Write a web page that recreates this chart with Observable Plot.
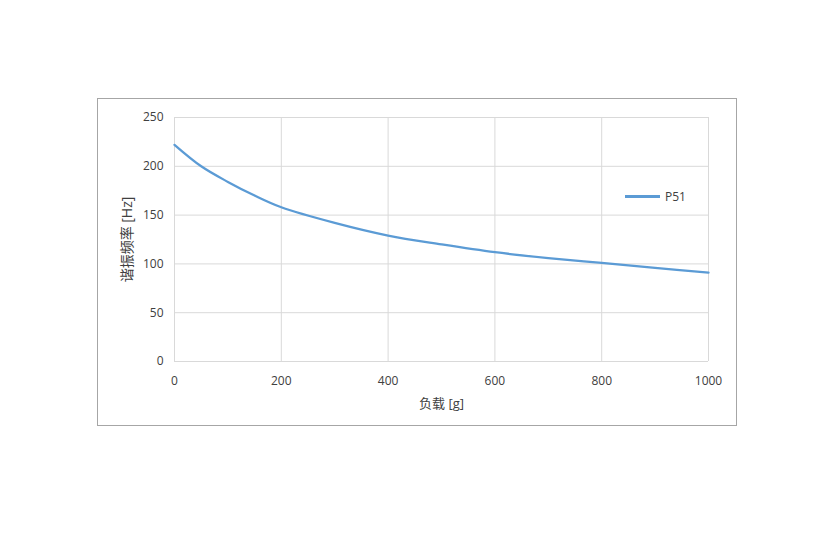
<!DOCTYPE html>
<html><head><meta charset="utf-8">
<script src="https://cdn.jsdelivr.net/npm/d3@7"></script>
<script src="https://cdn.jsdelivr.net/npm/@observablehq/plot@0.6"></script>
<style>
body{margin:0;background:#fff}
#wrap{position:relative;width:835px;height:537px;font-family:"Open Sans","Noto Sans CJK SC",sans-serif}
#box{position:absolute;left:97px;top:98px;width:640px;height:328px;border:1px solid #a6a6a6;box-sizing:border-box;pointer-events:none}
#legend{position:absolute;left:625px;top:188px;display:flex;align-items:center;font-size:12px;color:#404040}
#legend .sw{width:35px;height:2.5px;background:#5b9bd5;margin-right:5px}
</style>
</head><body>
<div id="wrap"><div id="box"></div><div id="legend"><div class="sw"></div><span id="lgtext"></span></div></div>
<script>
const seriesName = "P51";
const loads = [0, 50, 100, 150, 200, 300, 400, 500, 600, 700, 800, 900, 1000];
const freqs = [222, 200, 184, 170, 158, 142, 129, 120, 112, 106, 101, 96, 91];
const xTicks = [0, 200, 400, 600, 800, 1000];
const yTicks = [0, 50, 100, 150, 200, 250];
const xLabel = "负载 [g]";
const yLabel = "谐振频率 [Hz]";

const data = loads.map((l, i) => ({load: l, freq: freqs[i]}));
document.getElementById("lgtext").textContent = seriesName;

const chart = Plot.plot({
  width: 835, height: 537,
  marginLeft: 174, marginRight: 127, marginTop: 117, marginBottom: 176,
  style: {fontFamily: '"Open Sans","Noto Sans CJK SC",sans-serif', fontSize: "12px", color: "#404040", background: "transparent"},
  x: {domain: [0, 1000]},
  y: {domain: [0, 250]},
  marks: [
    Plot.gridX(xTicks, {stroke: "#d9d9d9", strokeOpacity: 1, strokeWidth: 1}),
    Plot.gridY(yTicks, {stroke: "#d9d9d9", strokeOpacity: 1, strokeWidth: 1}),
    Plot.axisX(xTicks, {tickSize: 0, tickPadding: 15, label: null, fill: "#404040", tickFormat: d => String(d)}),
    Plot.axisY(yTicks, {tickSize: 0, tickPadding: 11, label: null, fill: "#404040", tickFormat: d => String(d)}),
    Plot.line(data, {x: "load", y: "freq", stroke: "#5b9bd5", strokeWidth: 2.25, curve: "catmull-rom"}),
    Plot.text([xLabel], {frameAnchor: "bottom", dy: 46, text: d => d, fill: "#404040", fontSize: 13}),
    Plot.text([yLabel], {frameAnchor: "left", dx: -47, rotate: -90, textAnchor: "middle", text: d => d, fill: "#404040", fontSize: 14})
  ]
});
document.getElementById("wrap").prepend(chart);
chart.style.position = "absolute";
chart.style.left = "0"; chart.style.top = "0";
</script>
</body></html>
